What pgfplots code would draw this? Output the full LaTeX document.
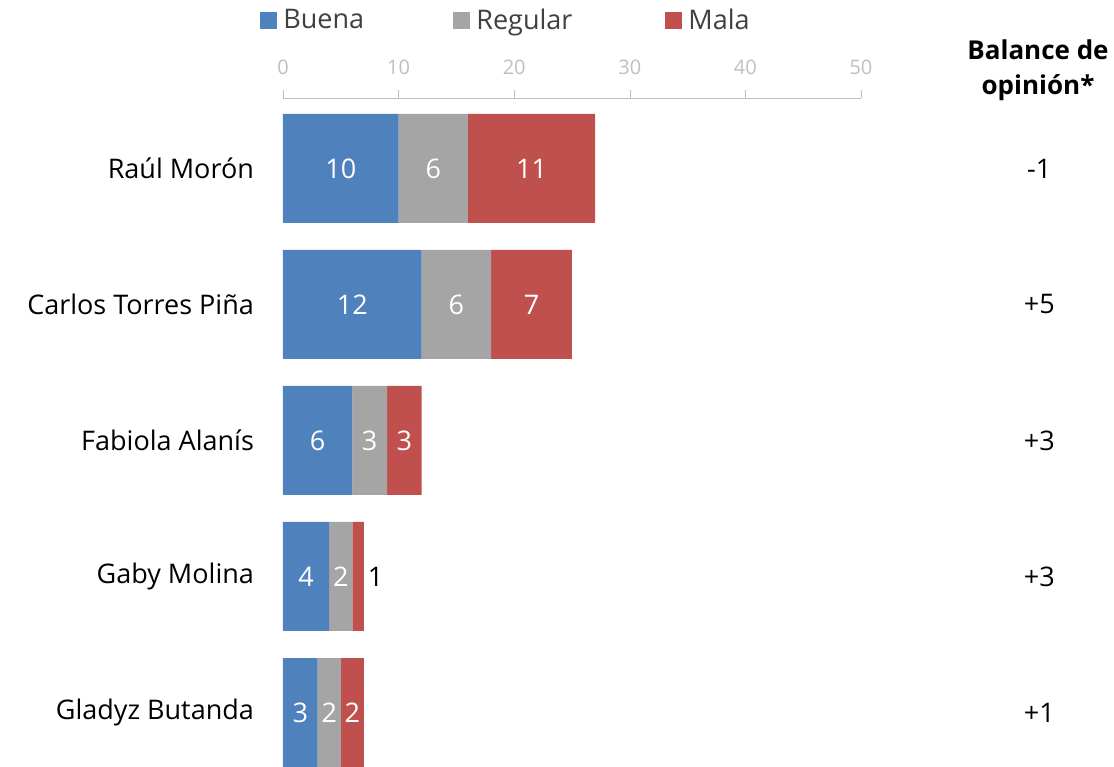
\documentclass[border=0pt]{standalone}
\usepackage{pgfplots}
\pgfplotsset{compat=1.18}
\usepackage{fontspec}
\setmainfont{Open Sans}
\definecolor{cBuena}{HTML}{4F81BD}
\definecolor{cReg}{HTML}{A5A5A5}
\definecolor{cMala}{HTML}{C0504D}
\definecolor{axgray}{HTML}{BFBFBF}
\definecolor{txtgray}{HTML}{404040}
\begin{document}
\begin{tikzpicture}[x=1pt,y=1pt]
\useasboundingbox (0,0) rectangle (557,383);
\pgfplotsset{base/.style={
  at={(141.5pt,-0.45pt)}, anchor=south west,
  scale only axis, width=289pt, height=334.45pt,
  xmin=0, xmax=50, ymin=-0.518, ymax=4.4, y dir=reverse,
  clip=false,
}}
\begin{axis}[base,
  xbar stacked, bar width=54.5pt,
  axis x line=top, axis y line=left,
  x axis line style={axgray,-},
  y axis line style={draw=none},
  xtick={0,10,20,30,40,50},
  xtick align=outside, major tick length=4pt,
  xtick style={axgray},
  xticklabel style={text=axgray, font=\fontsize{10}{12}\selectfont, yshift=4pt},
  /pgf/number format/assume math mode=true,
  ytick={0,1,2,3,4},
  yticklabels={Raúl Morón, Carlos Torres Piña, Fabiola Alanís, Gaby Molina, Gladyz Butanda},
  ytick style={draw=none},
  yticklabel style={anchor=east, xshift=-9pt, font=\fontsize{13.5}{16}\selectfont, text=black},
  legend columns=3,
  legend style={at={(-0.0398,1.1158)}, anchor=west, draw=none, inner sep=0pt,
    nodes={inner sep=0pt, text=txtgray, font=\fontsize{13.5}{16}\selectfont},
    /tikz/every odd column/.style={column sep=3pt}},
  legend image code/.code={\fill (0pt,-4.25pt) rectangle (8.5pt,4.25pt);},
]
\addplot[fill=cBuena, draw=none] coordinates {(10,0) (12,1) (6,2) (4,3) (3,4)};
\addplot[fill=cReg, draw=none] coordinates {(6,0) (6,1) (3,2) (2,3) (2,4)};
\addplot[fill=cMala, draw=none] coordinates {(11,0) (7,1) (3,2) (1,3) (2,4)};
\legend{\makebox[85pt][l]{Buena}, \makebox[94.5pt][l]{Regular}, Mala}
\end{axis}
\begin{axis}[base,
  axis x line=none, axis y line=right,
  y axis line style={draw=none},
  ytick={0,1,2,3,4},
  yticklabels={-1,+5,+3,+3,+1},
  ytick style={draw=none},
  yticklabel style={anchor=center, xshift=87pt, font=\fontsize{13.5}{16}\selectfont, text=black},
]
\addplot[draw=none, mark=none, nodes near coords, point meta=explicit symbolic,
  every node near coord/.style={anchor=center, text=white, font=\fontsize{13.5}{16}\selectfont}]
  coordinates {(5,0)[10] (13,0)[6] (21.5,0)[11]
               (6,1)[12] (15,1)[6] (21.5,1)[7]
               (3,2)[6] (7.5,2)[3] (10.5,2)[3]
               (2,3)[4] (5,3)[2]
               (1.5,4)[3] (4,4)[2] (6,4)[2]};
\addplot[draw=none, mark=none, nodes near coords, point meta=explicit symbolic,
  every node near coord/.style={anchor=center, text=black, font=\fontsize{13.5}{16}\selectfont}]
  coordinates {(8,3)[1]};
\end{axis}
\node[align=center, font=\bfseries\fontsize{13}{17.5}\selectfont, text=black] at (519,348) {Balance de\\opinión*};
\end{tikzpicture}
\end{document}
